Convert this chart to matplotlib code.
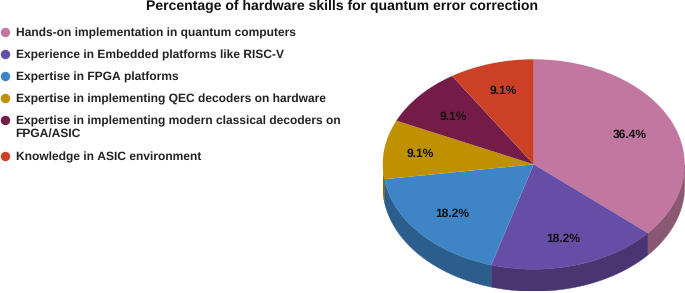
#!/usr/bin/env python3
"""Percentage of hardware skills, drawn as a tilted pie with a side wall."""

import numpy as np
import matplotlib

matplotlib.use("Agg")
import matplotlib.pyplot as plt

labels = [
    "Hands-on implementation in quantum computers",
    "Experience in Embedded platforms like RISC-V",
    "Expertise in FPGA platforms",
    "Expertise in implementing QEC decoders on hardware",
    "Expertise in implementing modern classical decoders on\nFPGA/ASIC",
    "Knowledge in ASIC environment",
]
values = [36.4, 18.2, 18.2, 9.1, 9.1, 9.1]
colors = ["#C1779F", "#664EA6", "#3D85C6", "#BF9000", "#741B47", "#CC4125"]
side_colors = ["#8B5874", "#4A3573", "#2B5E8C", "#8A6800", "#52132F", "#93301B"]
legend_y = [32, 54, 76, 98, 120, 156]
# nudges of the percentage labels, in pixels
label_nudge = [(3, 0), (1, 6), (-4, 3), (-12, 0), (-3, -1), (-2, -5)]

WIDTH, HEIGHT = 685, 293
CX, CY, RX, RY, DEPTH = 533.7, 164.3, 151.0, 105.0, 22.0
FONT = "Liberation Sans"

plt.rcParams["text.hinting"] = "no_hinting"
plt.rcParams["text.hinting_factor"] = 1

fig = plt.figure(figsize=(WIDTH / 100, HEIGHT / 100), dpi=100)

# overlay in pixel coordinates for the title and the legend
overlay = fig.add_axes([0, 0, 1, 1])
overlay.set_xlim(0, WIDTH)
overlay.set_ylim(HEIGHT, 0)
overlay.axis("off")
overlay.text(342.5, 6.5, "Percentage of hardware skills for quantum error correction",
             ha="center", va="center", fontsize=9.85, fontweight="bold", family=FONT, color="#111111")
for label, color, y in zip(labels, colors, legend_y):
    overlay.scatter([4.8], [y], s=46, color=color, linewidths=0)
    overlay.text(15.7, y - 4.5, label, ha="left", va="top", fontsize=8.75, fontweight="bold",
                 family=FONT, color="#222222", linespacing=1.2)

# the pie axes: one data unit is RX pixels across and RY pixels down
bottom = CY + RY + DEPTH
ax = fig.add_axes([(CX - RX) / WIDTH, (HEIGHT - bottom) / HEIGHT, 2 * RX / WIDTH, (RY + RY + DEPTH) / HEIGHT])
ax.patch.set_alpha(0)
depth = DEPTH / RY

# side wall, only where the rim faces the viewer
total = sum(values)
start = 90.0
for value, color in zip(values, side_colors):
    end = start - 360.0 * value / total
    theta = np.radians(np.linspace(start, end, 120))
    theta = theta[np.sin(theta) <= 0]
    if len(theta):
        x = np.cos(theta)
        y = np.sin(theta)
        ax.fill(np.r_[x, x[::-1]], np.r_[y, y[::-1] - depth], color=color, lw=0.3)
    start = end

wedges, _, autotexts = ax.pie(
    values, colors=colors, startangle=90, counterclock=False, radius=1,
    autopct="%.1f%%", pctdistance=0.68, wedgeprops={"linewidth": 0},
    textprops={"fontsize": 8.8, "fontweight": "bold", "family": FONT, "color": "#111111"},
)
for text, (dx, dy) in zip(autotexts, label_nudge):
    px, py = text.get_position()
    text.set_position((px + dx / RX, py - dy / RY))
ax.set_aspect("auto")
ax.set_xlim(-1, 1)
ax.set_ylim(-1 - depth, 1)
ax.axis("off")

fig.savefig("out.png", dpi=100)
